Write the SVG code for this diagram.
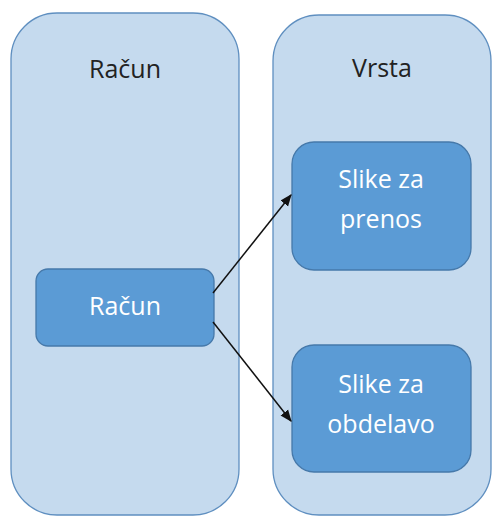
<svg xmlns="http://www.w3.org/2000/svg" width="494" height="517" viewBox="0 0 494 517">
<defs>
<style>
.cont{fill:#c5daee;stroke:#5f8fc0;stroke-width:1.3}
.box{fill:#5b9bd5;stroke:#4679aa;stroke-width:1.3}
.t{font-family:"Open Sans","Liberation Sans",sans-serif;font-size:25px;text-anchor:middle}
.dark{fill:#222}
.light{fill:#fff}
.conn{stroke:#111;stroke-width:1.5;fill:none;marker-end:url(#arr)}
</style>
<marker id="arr" viewBox="0 0 10 10" refX="9" refY="5" markerWidth="8" markerHeight="8" orient="auto" markerUnits="strokeWidth">
<path d="M0,1 L10,5 L0,9 z" fill="#111"/>
</marker>
</defs>
<g id="container-racun">
<rect class="cont" x="11" y="13" width="228" height="502" rx="46" ry="46"/>
<text class="t dark" x="125" y="78">Račun</text>
</g>
<g id="container-vrsta">
<rect class="cont" x="273" y="15" width="218" height="500" rx="46" ry="46"/>
<text class="t dark" x="382" y="77">Vrsta</text>
</g>
<g id="node-racun">
<rect class="box" x="36" y="269" width="178" height="77" rx="12" ry="12"/>
<text class="t light" x="125" y="315">Račun</text>
</g>
<g id="node-prenos">
<rect class="box" x="292" y="142" width="179" height="128" rx="22" ry="22"/>
<text class="t light" x="381" y="188">Slike za</text>
<text class="t light" x="381" y="228">prenos</text>
</g>
<g id="node-obdelavo">
<rect class="box" x="292" y="345" width="179" height="127" rx="22" ry="22"/>
<text class="t light" x="381" y="393">Slike za</text>
<text class="t light" x="381" y="433">obdelavo</text>
</g>
<g id="connectors">
<line class="conn" x1="213" y1="293" x2="291" y2="195"/>
<line class="conn" x1="213" y1="322" x2="291" y2="421"/>
</g>
</svg>
